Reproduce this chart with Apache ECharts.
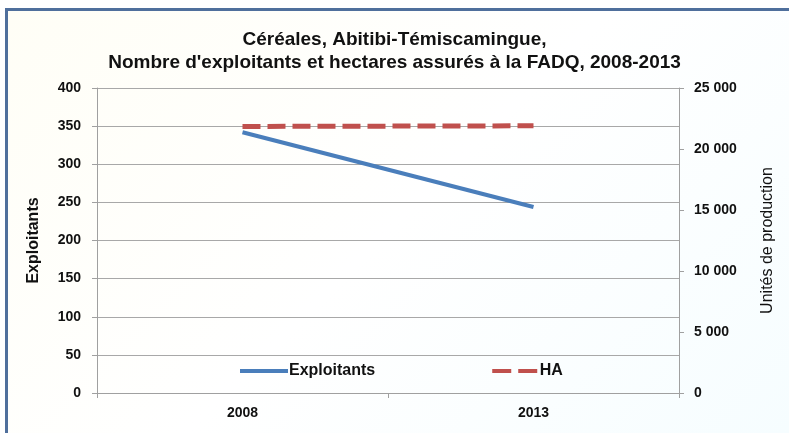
<!DOCTYPE html>
<html>
<head>
<meta charset="utf-8">
<script src="https://cdn.jsdelivr.net/npm/echarts@6/dist/echarts.min.js"></script>
<style>
  html, body { margin: 0; padding: 0; background: #fff; }
  .container-chart { position: relative; width: 789px; height: 433px; }
  .frame {
    position: absolute; left: 5px; top: 8px; right: 0; bottom: 0;
    border-top: 3px solid #4f6f9c; border-left: 3px solid #4f6f9c;
    background: linear-gradient(135deg, #fffef6 0%, #ffffff 50%, #f6fdff 100%);
  }
  #chart { position: absolute; left: 0; top: 0; width: 789px; height: 433px; }
</style>
</head>
<body>
<div class="container-chart">
  <div class="frame"></div>
  <div id="chart"></div>
</div>
<script>
// données
const years = ['2008', '2013']
const exploitants = [342, 244]
const hectares = [21850, 21900]
const leftTicks = [0, 400, 50]
const rightTicks = [0, 25000, 5000]

const font = '"Liberation Sans", Arial, sans-serif'

// format "25 000"
function spaced(v) {
  return String(v).replace(/\B(?=(\d{3})+(?!\d))/g, ' ')
}

const chart = echarts.init(document.getElementById('chart'))
const option = {
  backgroundColor: 'transparent',
  title: {
    text: 'Céréales, Abitibi-Témiscamingue,\nNombre d\'exploitants et hectares assurés à la FADQ, 2008-2013',
    left: 'center',
    top: 23,
    textStyle: {
      fontFamily: font,
      fontWeight: 'bold',
      fontSize: 19,
      lineHeight: 23,
      color: '#111'
    }
  },
  grid: {
    left: 97,
    right: 110,
    top: 88,
    bottom: 40
  },
  legend: {
    left: 235,
    top: 358,
    itemWidth: 48,
    itemHeight: 4,
    itemGap: 117,
    data: [
      { name: 'Exploitants', icon: 'rect' },
      { name: 'HA', icon: 'path://M0,0 h19 v4 h-19 Z M26,0 h19 v4 h-19 Z' }
    ],
    textStyle: {
      fontFamily: font,
      fontWeight: 'bold',
      fontSize: 16,
      color: '#111',
      padding: [0, 0, 0, -4]
    }
  },
  xAxis: {
    type: 'category',
    data: years,
    boundaryGap: true,
    axisLine: { lineStyle: { color: '#a0a0a0' } },
    axisTick: { show: true, length: 5, lineStyle: { color: '#a0a0a0' } },
    axisLabel: {
      fontFamily: font,
      fontWeight: 'bold',
      fontSize: 14,
      color: '#111',
      margin: 13
    }
  },
  yAxis: [
    {
      type: 'value',
      min: leftTicks[0],
      max: leftTicks[1],
      interval: leftTicks[2],
      name: 'Exploitants',
      nameLocation: 'middle',
      nameGap: 55,
      nameTextStyle: {
        fontFamily: font,
        fontWeight: 'bold',
        fontSize: 16,
        color: '#111'
      },
      axisLine: { show: true, lineStyle: { color: '#a0a0a0' } },
      axisTick: { show: true, length: 5, lineStyle: { color: '#a0a0a0' } },
      splitLine: { show: true, lineStyle: { color: '#a8a8a8' } },
      axisLabel: {
        fontFamily: font,
        fontWeight: 'bold',
        fontSize: 14,
        color: '#111',
        margin: 16
      }
    },
    {
      type: 'value',
      min: rightTicks[0],
      max: rightTicks[1],
      interval: rightTicks[2],
      position: 'right',
      name: 'Unités de production',
      nameLocation: 'middle',
      nameGap: 81,
      nameTextStyle: {
        fontFamily: font,
        fontSize: 16,
        color: '#111'
      },
      axisLine: { show: true, lineStyle: { color: '#a0a0a0' } },
      axisTick: { show: true, length: 5, lineStyle: { color: '#a0a0a0' } },
      splitLine: { show: false },
      axisLabel: {
        fontFamily: font,
        fontWeight: 'bold',
        fontSize: 14,
        color: '#111',
        margin: 15,
        formatter: spaced
      }
    }
  ],
  series: [
    {
      name: 'Exploitants',
      type: 'line',
      yAxisIndex: 0,
      data: exploitants,
      symbol: 'none',
      itemStyle: { color: '#4a7ebb' },
      lineStyle: { color: '#4a7ebb', width: 4 }
    },
    {
      name: 'HA',
      type: 'line',
      yAxisIndex: 1,
      data: hectares,
      symbol: 'none',
      itemStyle: { color: '#c0504d' },
      lineStyle: { color: '#c0504d', width: 5, type: [18, 7] }
    }
  ]
}
chart.setOption(option)
</script>
</body>
</html>
